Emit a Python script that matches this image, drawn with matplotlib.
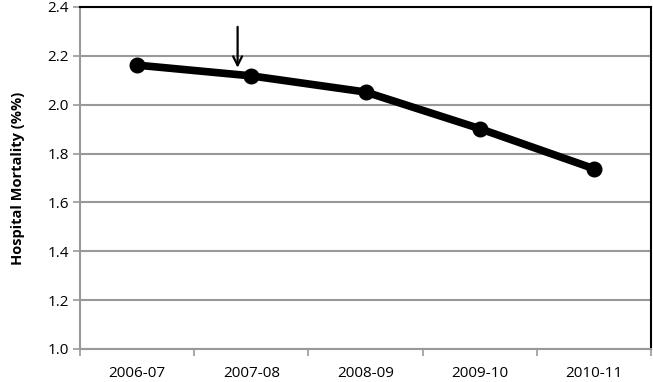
import matplotlib
matplotlib.use("Agg")
import matplotlib.pyplot as plt

# Data
years = ["2006-07", "2007-08", "2008-09", "2009-10", "2010-11"]
mortality = [2.162, 2.118, 2.052, 1.902, 1.738]
y_ticks = [1.0, 1.2, 1.4, 1.6, 1.8, 2.0, 2.2, 2.4]

plt.rcParams["font.family"] = ["Open Sans", "DejaVu Sans"]

fig = plt.figure(figsize=(6.53, 3.82), dpi=100)
ax = fig.add_axes([0.1225, 0.0864, 0.8745, 0.8953])

x = list(range(len(years)))
ax.plot(x, mortality, color="black", lw=5.5, marker="o", ms=10.5,
        solid_capstyle="round", zorder=3)

# arrow marking 2007-08
ax.annotate("", xy=(0.88, 2.14), xytext=(0.88, 2.33),
            arrowprops=dict(arrowstyle="->", color="black", lw=1.6,
                            mutation_scale=16))

ax.set_xlim(-0.5, len(years) - 0.5)
ax.set_ylim(1.0, 2.4)
ax.set_yticks(y_ticks)
ax.set_yticklabels([f"{v:.1f}" for v in y_ticks], fontsize=11)
ax.set_xticks(x)
ax.set_xticklabels(years, fontsize=11)
ax.set_xticks([i - 0.5 for i in range(len(years) + 1)], minor=True)
ax.tick_params(axis="x", which="major", length=0, pad=12)
ax.tick_params(axis="x", which="minor", length=5, color="#999999", width=1.2)
ax.tick_params(axis="y", length=5, color="#999999", width=1.2, pad=3)

ax.yaxis.grid(True, color="#999999", lw=1.5)
ax.set_axisbelow(True)

for side in ("left", "bottom"):
    ax.spines[side].set_color("#999999")
    ax.spines[side].set_linewidth(1.5)
for side in ("top", "right"):
    ax.spines[side].set_color("black")
    ax.spines[side].set_linewidth(1.5)

ax.set_ylabel("Hospital Mortality (%%)", fontsize=10.5, fontweight="bold",
              labelpad=16)

fig.savefig("out.png", dpi=100)
